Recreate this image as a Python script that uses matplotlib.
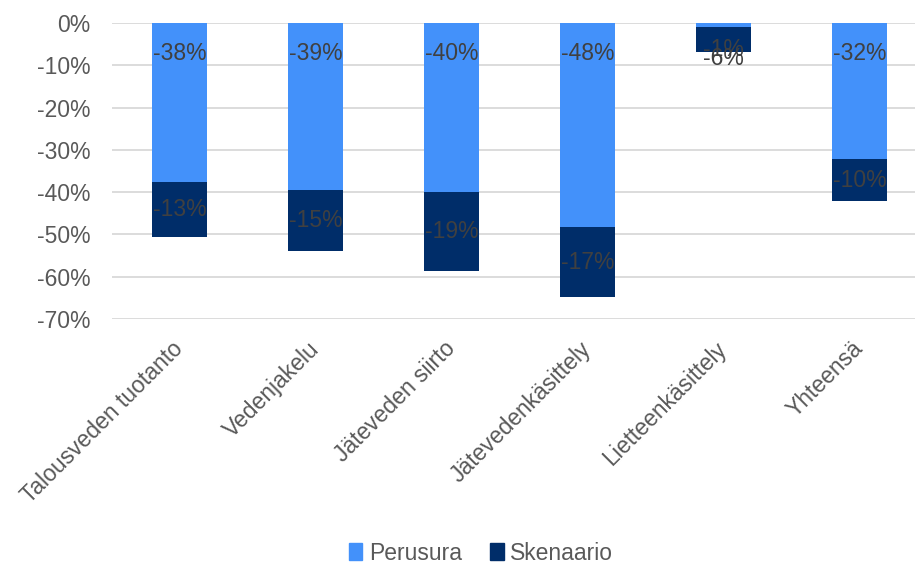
import matplotlib
matplotlib.use("Agg")
import matplotlib.pyplot as plt
from matplotlib.patches import Patch
from matplotlib.ticker import FuncFormatter, MultipleLocator

plt.rcParams["font.family"] = ["Liberation Sans", "DejaVu Sans"]
plt.rcParams["axes.unicode_minus"] = False

categories = ["Talousveden tuotanto", "Vedenjakelu", "Jäteveden siirto",
              "Jätevedenkäsittely", "Lietteenkäsittely", "Yhteensä"]
perusura = [-0.376, -0.394, -0.400, -0.483, -0.009, -0.322]
skenaario = [-0.131, -0.146, -0.186, -0.166, -0.059, -0.100]

C_PERUS = "#4391FA"
C_SKEN = "#002D69"
C_TEXT = "#595959"
C_LABEL = "#404040"

fig = plt.figure(figsize=(9.15, 5.63), dpi=100)
ax = fig.add_axes([111.5 / 915, 1 - 319 / 563, 816 / 915, 296 / 563])

x = range(len(categories))
w = 0.40
ax.bar(x, perusura, w, color=C_PERUS, zorder=2)
ax.bar(x, skenaario, w, bottom=perusura, color=C_SKEN, zorder=2)

ax.set_xlim(-0.5, len(categories) - 0.5)
ax.set_ylim(-0.70, 0.0)
ax.yaxis.set_major_locator(MultipleLocator(0.10))
ax.yaxis.set_major_formatter(FuncFormatter(lambda v, _: f"{round(v * 100):d}%"))
ax.grid(axis="y", color="#d9d9d9", lw=1.3, zorder=0)
ax.set_axisbelow(True)
for s in ax.spines.values():
    s.set_visible(False)
ax.tick_params(axis="y", length=0, pad=15, labelsize=16.5, labelcolor=C_TEXT)
ax.tick_params(axis="x", length=0, pad=19, labelsize=16.5, labelcolor=C_TEXT)
ax.set_xticks(list(x))
ax.set_xticklabels(categories, rotation=45, ha="right", va="center",
                   rotation_mode="anchor")

# arvotunnisteet: perusura pohjan sisäpuolelle, skenaario osan keskelle
for i, (p, s) in enumerate(zip(perusura, skenaario)):
    small = abs(s) < 0.08
    dy = 3 if small else 0
    ax.annotate(f"{p * 100:.0f}%", xy=(i, 0), xytext=(0, -22 + dy),
                textcoords="offset points", ha="center", va="center",
                fontsize=16.5, color=C_LABEL, zorder=3)
    if small:
        ax.annotate(f"{s * 100:.0f}%", xy=(i, p + s), xytext=(0, -5),
                    textcoords="offset points", ha="center", va="center",
                    fontsize=16.5, color=C_LABEL, zorder=3)
    else:
        ax.text(i, p + s / 2, f"{s * 100:.0f}%", ha="center", va="center",
                fontsize=16.5, color=C_LABEL, zorder=3)

handles = [Patch(color=C_PERUS, label="Perusura"),
           Patch(color=C_SKEN, label="Skenaario")]
fig.legend(handles=handles, loc="center", bbox_to_anchor=(481 / 915, 1 - 553 / 563),
           ncol=2, frameon=False, fontsize=16.5, labelcolor=C_TEXT,
           handlelength=0.6, handleheight=0.8, handletextpad=0.3,
           columnspacing=1.2)

fig.savefig("out.png", dpi=100)
